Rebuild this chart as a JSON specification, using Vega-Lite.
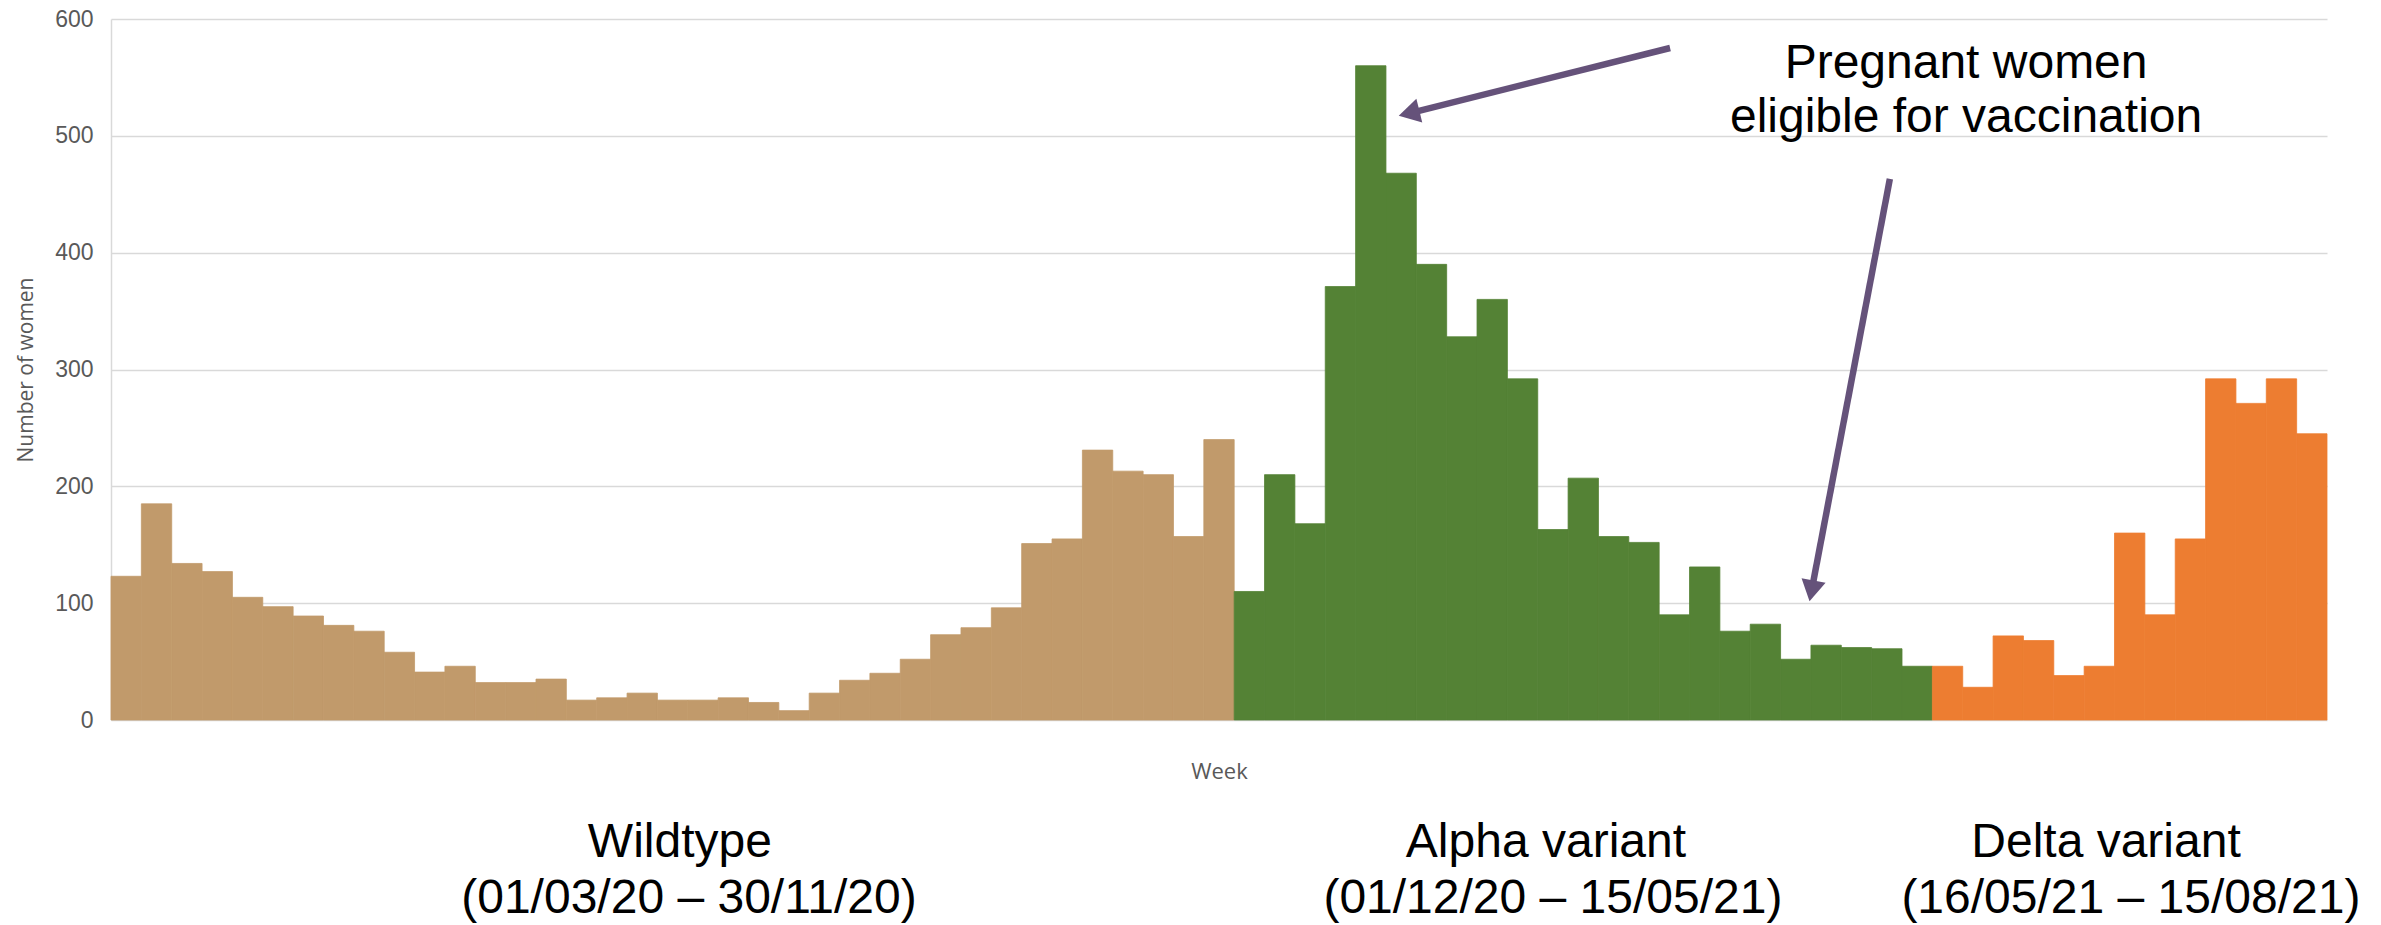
{
  "$schema": "https://vega.github.io/schema/vega-lite/v6.json",
  "width": 2216,
  "height": 701,
  "autosize": {"type": "none"},
  "padding": {"left": 111, "top": 19, "right": 54, "bottom": 205},
  "background": "white",
  "config": {"view": {"stroke": null}},
  "datasets": {
    "weeks": [
      {"week": 1, "period": "Wildtype", "women": 123},
      {"week": 2, "period": "Wildtype", "women": 185},
      {"week": 3, "period": "Wildtype", "women": 134},
      {"week": 4, "period": "Wildtype", "women": 127},
      {"week": 5, "period": "Wildtype", "women": 105},
      {"week": 6, "period": "Wildtype", "women": 97},
      {"week": 7, "period": "Wildtype", "women": 89},
      {"week": 8, "period": "Wildtype", "women": 81},
      {"week": 9, "period": "Wildtype", "women": 76},
      {"week": 10, "period": "Wildtype", "women": 58},
      {"week": 11, "period": "Wildtype", "women": 41},
      {"week": 12, "period": "Wildtype", "women": 46},
      {"week": 13, "period": "Wildtype", "women": 32},
      {"week": 14, "period": "Wildtype", "women": 32},
      {"week": 15, "period": "Wildtype", "women": 35},
      {"week": 16, "period": "Wildtype", "women": 17},
      {"week": 17, "period": "Wildtype", "women": 19},
      {"week": 18, "period": "Wildtype", "women": 23},
      {"week": 19, "period": "Wildtype", "women": 17},
      {"week": 20, "period": "Wildtype", "women": 17},
      {"week": 21, "period": "Wildtype", "women": 19},
      {"week": 22, "period": "Wildtype", "women": 15},
      {"week": 23, "period": "Wildtype", "women": 8},
      {"week": 24, "period": "Wildtype", "women": 23},
      {"week": 25, "period": "Wildtype", "women": 34},
      {"week": 26, "period": "Wildtype", "women": 40},
      {"week": 27, "period": "Wildtype", "women": 52},
      {"week": 28, "period": "Wildtype", "women": 73},
      {"week": 29, "period": "Wildtype", "women": 79},
      {"week": 30, "period": "Wildtype", "women": 96},
      {"week": 31, "period": "Wildtype", "women": 151},
      {"week": 32, "period": "Wildtype", "women": 155},
      {"week": 33, "period": "Wildtype", "women": 231},
      {"week": 34, "period": "Wildtype", "women": 213},
      {"week": 35, "period": "Wildtype", "women": 210},
      {"week": 36, "period": "Wildtype", "women": 157},
      {"week": 37, "period": "Wildtype", "women": 240},
      {"week": 38, "period": "Alpha", "women": 110},
      {"week": 39, "period": "Alpha", "women": 210},
      {"week": 40, "period": "Alpha", "women": 168},
      {"week": 41, "period": "Alpha", "women": 371},
      {"week": 42, "period": "Alpha", "women": 560},
      {"week": 43, "period": "Alpha", "women": 468},
      {"week": 44, "period": "Alpha", "women": 390},
      {"week": 45, "period": "Alpha", "women": 328},
      {"week": 46, "period": "Alpha", "women": 360},
      {"week": 47, "period": "Alpha", "women": 292},
      {"week": 48, "period": "Alpha", "women": 163},
      {"week": 49, "period": "Alpha", "women": 207},
      {"week": 50, "period": "Alpha", "women": 157},
      {"week": 51, "period": "Alpha", "women": 152},
      {"week": 52, "period": "Alpha", "women": 90},
      {"week": 53, "period": "Alpha", "women": 131},
      {"week": 54, "period": "Alpha", "women": 76},
      {"week": 55, "period": "Alpha", "women": 82},
      {"week": 56, "period": "Alpha", "women": 52},
      {"week": 57, "period": "Alpha", "women": 64},
      {"week": 58, "period": "Alpha", "women": 62},
      {"week": 59, "period": "Alpha", "women": 61},
      {"week": 60, "period": "Alpha", "women": 46},
      {"week": 61, "period": "Delta", "women": 46},
      {"week": 62, "period": "Delta", "women": 28},
      {"week": 63, "period": "Delta", "women": 72},
      {"week": 64, "period": "Delta", "women": 68},
      {"week": 65, "period": "Delta", "women": 38},
      {"week": 66, "period": "Delta", "women": 46},
      {"week": 67, "period": "Delta", "women": 160},
      {"week": 68, "period": "Delta", "women": 90},
      {"week": 69, "period": "Delta", "women": 155},
      {"week": 70, "period": "Delta", "women": 292},
      {"week": 71, "period": "Delta", "women": 271},
      {"week": 72, "period": "Delta", "women": 292},
      {"week": 73, "period": "Delta", "women": 245}
    ],
    "arrows": [
      {"arrow": 1, "x_from": 51.36, "y_from": 575.2, "x_to": 42.76, "y_to": 519.3},
      {"arrow": 2, "x_from": 58.6, "y_from": 463.1, "x_to": 56.02, "y_to": 110.5}
    ],
    "labels": [
      {"label": "Pregnant women", "x": 61.11, "y": 549.5},
      {"label": "eligible for vaccination", "x": 61.11, "y": 503.3},
      {"label": "Wildtype", "x": 18.74, "y": -117.3},
      {"label": "(01/03/20 – 30/11/20)", "x": 19.04, "y": -165.2},
      {"label": "Alpha variant", "x": 47.27, "y": -117.3},
      {"label": "(01/12/20 – 15/05/21)", "x": 47.5, "y": -165.2},
      {"label": "Delta variant", "x": 65.72, "y": -117.3},
      {"label": "(16/05/21 – 15/08/21)", "x": 66.54, "y": -165.2}
    ]
  },
  "layer": [
    {
      "data": {"name": "weeks"},
      "mark": {"type": "bar", "strokeWidth": 0.8},
      "encoding": {
        "x": {
          "field": "week",
          "type": "ordinal",
          "scale": {"paddingInner": 0, "paddingOuter": 0},
          "axis": {
            "title": "Week",
            "labels": false,
            "ticks": false,
            "domain": false,
            "grid": false,
            "titleFont": "Open Sans",
            "titleFontSize": 22,
            "titleFontWeight": "normal",
            "titleColor": "#595959",
            "titlePadding": 41
          }
        },
        "y": {
          "field": "women",
          "type": "quantitative",
          "scale": {"domain": [0, 600], "nice": false},
          "axis": {
            "title": "Number of women",
            "values": [0, 100, 200, 300, 400, 500, 600],
            "ticks": false,
            "labelPadding": 18,
            "labelFont": "Liberation Sans",
            "labelFontSize": 23,
            "labelColor": "#595959",
            "domainColor": "#D9D9D9",
            "domainWidth": 1.5,
            "gridColor": "#D9D9D9",
            "gridWidth": 1.3,
            "titleFont": "Open Sans",
            "titleFontSize": 21,
            "titleFontWeight": "normal",
            "titleColor": "#595959",
            "titlePadding": 18
          }
        },
        "color": {
          "field": "period",
          "type": "nominal",
          "scale": {"domain": ["Wildtype", "Alpha", "Delta"], "range": ["#C19A6B", "#548235", "#ED7D31"]},
          "legend": null
        },
        "stroke": {
          "field": "period",
          "type": "nominal",
          "scale": {"domain": ["Wildtype", "Alpha", "Delta"], "range": ["#C19A6B", "#548235", "#ED7D31"]},
          "legend": null
        }
      }
    },
    {
      "data": {"name": "arrows"},
      "mark": {"type": "rule", "color": "#65527A", "strokeWidth": 6.5, "strokeCap": "butt"},
      "encoding": {
        "x": {"field": "x_from", "type": "quantitative", "scale": {"domain": [0, 73], "nice": false, "zero": false}, "axis": null},
        "x2": {"field": "x_to"},
        "y": {"field": "y_from", "type": "quantitative"},
        "y2": {"field": "y_to"}
      }
    },
    {
      "data": {"name": "arrows"},
      "transform": [{"filter": "datum.arrow == 1"}],
      "mark": {"type": "point", "shape": "triangle-up", "filled": true, "opacity": 1, "color": "#65527A", "size": 600, "angle": 256},
      "encoding": {
        "x": {"field": "x_to", "type": "quantitative", "scale": {"domain": [0, 73], "nice": false, "zero": false}, "axis": null},
        "y": {"field": "y_to", "type": "quantitative"}
      }
    },
    {
      "data": {"name": "arrows"},
      "transform": [{"filter": "datum.arrow == 2"}],
      "mark": {"type": "point", "shape": "triangle-up", "filled": true, "opacity": 1, "color": "#65527A", "size": 600, "angle": 191},
      "encoding": {
        "x": {"field": "x_to", "type": "quantitative", "scale": {"domain": [0, 73], "nice": false, "zero": false}, "axis": null},
        "y": {"field": "y_to", "type": "quantitative"}
      }
    },
    {
      "data": {"name": "labels"},
      "mark": {"type": "text", "font": "Liberation Sans", "fontSize": 48, "align": "center", "baseline": "alphabetic", "color": "#000000"},
      "encoding": {
        "x": {"field": "x", "type": "quantitative", "scale": {"domain": [0, 73], "nice": false, "zero": false}, "axis": null},
        "y": {"field": "y", "type": "quantitative"},
        "text": {"field": "label"}
      }
    }
  ],
  "resolve": {"scale": {"x": "independent"}}
}
